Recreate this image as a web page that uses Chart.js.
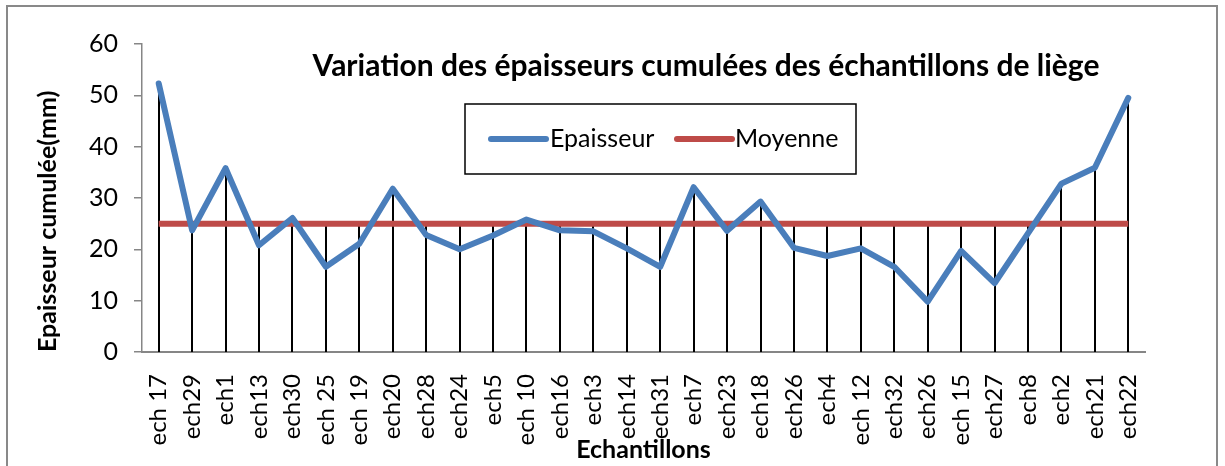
<!DOCTYPE html>
<html>
<head>
<meta charset="utf-8">
<script src="https://cdn.jsdelivr.net/npm/chart.js@4.4.1/dist/chart.umd.min.js"></script>
<style>
  body { margin: 0; background: #fff; }
  #wrap { width: 1225px; height: 466px; position: relative; }
</style>
</head>
<body>
<div id="wrap"><canvas id="lineChart"></canvas></div>
<script>
// data
var echantillons = ['ech 17', 'ech29', 'ech1', 'ech13', 'ech30', 'ech 25', 'ech 19', 'ech20', 'ech28', 'ech24',
    'ech5', 'ech 10', 'ech16', 'ech3', 'ech14', 'ech31', 'ech7', 'ech23', 'ech18', 'ech26',
    'ech4', 'ech 12', 'ech32', 'ech26', 'ech 15', 'ech27', 'ech8', 'ech2', 'ech21', 'ech22'];
var epaisseur = [52.3, 23.7, 35.8, 20.8, 26.1, 16.6, 21.1, 31.8, 22.8, 20.0,
    22.7, 25.8, 23.7, 23.5, 20.2, 16.6, 32.1, 23.6, 29.3, 20.3,
    18.7, 20.2, 16.6, 9.8, 19.7, 13.4, 23.1, 32.8, 35.9, 49.5];
var moyenne = [25, 25, 25, 25, 25, 25, 25, 25, 25, 25,
    25, 25, 25, 25, 25, 25, 25, 25, 25, 25,
    25, 25, 25, 25, 25, 25, 25, 25, 25, 25];
var yTicks = [0, 10, 20, 30, 40, 50, 60];

var titre = 'Variation des épaisseurs cumulées des échantillons de liège';
var FONT = 'Lato';

// gray frame around the whole chart
var framePlugin = {
    id: 'frame',
    beforeDraw: function(chart) {
        var ctx = chart.ctx;
        ctx.save();
        ctx.strokeStyle = '#898989';
        ctx.lineWidth = 2;
        ctx.strokeRect(7, 6, 1210, 480);
        ctx.restore();
    }
};

// black drop lines from the highest series down to the axis
var dropLines = {
    id: 'dropLines',
    beforeDatasetsDraw: function(chart) {
        var ctx = chart.ctx;
        var x = chart.scales.x, y = chart.scales.y;
        ctx.save();
        ctx.strokeStyle = '#000';
        ctx.lineWidth = 2;
        for (var i = 0; i < chart.data.labels.length; i++) {
            var top = Math.max.apply(null, chart.data.datasets.map(function(d) { return d.data[i]; }));
            var px = Math.round(x.getPixelForValue(i));
            ctx.beginPath();
            ctx.moveTo(px, y.getPixelForValue(top));
            ctx.lineTo(px, y.getPixelForValue(0));
            ctx.stroke();
        }
        ctx.restore();
    }
};

// title and boxed legend drawn inside the plot area
var overlay = {
    id: 'overlay',
    afterDraw: function(chart) {
        var ctx = chart.ctx;
        ctx.save();
        ctx.fillStyle = '#000';
        ctx.font = 'bold 30px ' + FONT;
        ctx.textAlign = 'center';
        ctx.textBaseline = 'alphabetic';
        ctx.fillText(chart.options.plugins.title.text, 706, 76);

        // legend box
        ctx.strokeStyle = '#000';
        ctx.lineWidth = 1.5;
        ctx.strokeRect(465, 104, 391, 70);
        var items = [{ x: 491, tx: 550 }, { x: 677, tx: 735 }];
        ctx.font = '25px ' + FONT;
        ctx.textAlign = 'left';
        ctx.textBaseline = 'middle';
        chart.data.datasets.forEach(function(ds, k) {
            ctx.strokeStyle = ds.borderColor;
            ctx.lineWidth = 6;
            ctx.lineCap = 'round';
            ctx.beginPath();
            ctx.moveTo(items[k].x, 139);
            ctx.lineTo(items[k].x + 55, 139);
            ctx.stroke();
            ctx.fillStyle = '#000';
            ctx.fillText(ds.label, items[k].tx, 139);
        });
        ctx.restore();
    }
};

var ctxLine = document.getElementById('lineChart').getContext('2d');
var lineChart = new Chart(ctxLine, {
    type: 'line',
    data: {
        labels: echantillons,
        datasets: [
            {
                label: 'Epaisseur',
                data: epaisseur,
                borderColor: '#4A7EBB',
                borderWidth: 6,
                borderCapStyle: 'round',
                borderJoinStyle: 'round',
                pointRadius: 0,
                fill: false
            },
            {
                label: 'Moyenne',
                data: moyenne,
                borderColor: '#BE4B48',
                borderWidth: 6,
                pointRadius: 0,
                fill: false
            }
        ]
    },
    options: {
        responsive: true,
        maintainAspectRatio: false,
        animation: false,
        layout: { padding: { top: 44, right: 80, bottom: 0, left: 0 } },
        plugins: {
            legend: { display: false },
            title: { display: false, text: titre },
            tooltip: { enabled: false }
        },
        scales: {
            x: {
                offset: true,
                grid: { display: false, drawTicks: false },
                border: { color: '#868686', width: 2 },
                ticks: {
                    autoSkip: false,
                    minRotation: 90,
                    maxRotation: 90,
                    padding: 22,
                    color: '#000',
                    font: { family: FONT, size: 24 }
                },
                title: {
                    display: true,
                    text: 'Echantillons',
                    color: '#000',
                    font: { family: FONT, size: 25, weight: 'bold' },
                    padding: { top: 0, bottom: 1 }
                },
                afterFit: function(scale) { scale.height = 114; }
            },
            y: {
                min: 0,
                max: 60,
                afterBuildTicks: function(scale) {
                    scale.ticks = yTicks.map(function(v) { return { value: v }; });
                },
                grid: { drawOnChartArea: false, tickLength: 8, color: '#868686', lineWidth: 1.5 },
                border: { color: '#868686', width: 1.5 },
                ticks: {
                    padding: 16,
                    color: '#000',
                    font: { family: FONT, size: 25 }
                },
                title: {
                    display: true,
                    text: 'Epaisseur cumulée(mm)',
                    align: 'start',
                    color: '#000',
                    font: { family: FONT, size: 25, weight: 'bold' },
                    padding: { top: 33, bottom: 0 }
                },
                afterFit: function(scale) { scale.width = 142; }
            }
        }
    },
    plugins: [framePlugin, dropLines, overlay]
});
</script>
</body>
</html>
